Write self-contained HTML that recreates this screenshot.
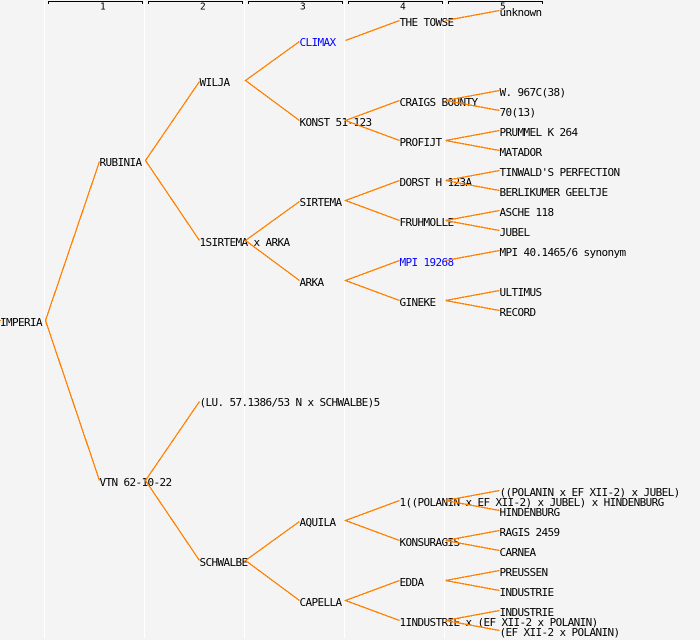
<!DOCTYPE html>
<html><head><meta charset="utf-8"><style>
html,body{margin:0;padding:0;background:#f4f4f4;width:700px;height:640px;overflow:hidden}
svg{display:block}
text{font-family:"DejaVu Sans Mono","Liberation Mono",monospace;font-size:11px;letter-spacing:-0.62px;fill:#000}
.b{fill:#0000ff}
.h{font-size:9.5px;letter-spacing:0}
</style></head><body>
<svg width="700" height="640" viewBox="0 0 700 640" xmlns="http://www.w3.org/2000/svg">
<rect width="700" height="640" fill="#f4f4f4"/>
<g fill="#fff"><rect x="44" y="0" width="1" height="638"/><rect x="144" y="0" width="1" height="638"/><rect x="244" y="0" width="1" height="638"/><rect x="344" y="0" width="1" height="638"/><rect x="444" y="0" width="1" height="638"/></g>
<g fill="none" stroke="#000" shape-rendering="crispEdges"><path d="M48.5 4V1.5H142.5V4M148.5 4V1.5H242.5V4M248.5 4V1.5H342.5V4M348.5 4V1.5H442.5V4M448.5 4V1.5H542.5V4"/></g>
<text class="h" x="100" y="9.5">1</text><text class="h" x="200" y="9.5">2</text><text class="h" x="300" y="9.5">3</text><text class="h" x="400" y="9.5">4</text><text class="h" x="500" y="9.5">5</text>
<text x="0" y="326">IMPERIA</text>
<text x="99.5" y="166">RUBINIA</text><text x="99.5" y="486">VTN 62-10-22</text>
<text x="199.5" y="86">WILJA</text><text x="199.5" y="246">1SIRTEMA x ARKA</text><text x="199.5" y="406">(LU. 57.1386/53 N x SCHWALBE)5</text><text x="199.5" y="566">SCHWALBE</text>
<text x="299.5" y="46" class="b">CLIMAX</text><text x="299.5" y="126">KONST 51-123</text><text x="299.5" y="206">SIRTEMA</text><text x="299.5" y="286">ARKA</text><text x="299.5" y="526">AQUILA</text><text x="299.5" y="606">CAPELLA</text>
<text x="399.5" y="26">THE TOWSE</text><text x="399.5" y="106">CRAIGS BOUNTY</text><text x="399.5" y="146">PROFIJT</text><text x="399.5" y="186">DORST H 123A</text><text x="399.5" y="226">FRUHMOLLE</text><text x="399.5" y="266" class="b">MPI 19268</text><text x="399.5" y="306">GINEKE</text><text x="399.5" y="506">1((POLANIN x EF XII-2) x JUBEL) x HINDENBURG</text><text x="399.5" y="546">KONSURAGIS</text><text x="399.5" y="586">EDDA</text><text x="399.5" y="626">1INDUSTRIE x (EF XII-2 x POLANIN)</text>
<text x="499.5" y="16">unknown</text><text x="499.5" y="96">W. 967C(38)</text><text x="499.5" y="116">70(13)</text><text x="499.5" y="136">PRUMMEL K 264</text><text x="499.5" y="156">MATADOR</text><text x="499.5" y="176">TINWALD'S PERFECTION</text><text x="499.5" y="196">BERLIKUMER GEELTJE</text><text x="499.5" y="216">ASCHE 118</text><text x="499.5" y="236">JUBEL</text><text x="499.5" y="256">MPI 40.1465/6 synonym</text><text x="499.5" y="296">ULTIMUS</text><text x="499.5" y="316">RECORD</text><text x="499.5" y="496">((POLANIN x EF XII-2) x JUBEL)</text><text x="499.5" y="516">HINDENBURG</text><text x="499.5" y="536">RAGIS 2459</text><text x="499.5" y="556">CARNEA</text><text x="499.5" y="576">PREUSSEN</text><text x="499.5" y="596">INDUSTRIE</text><text x="499.5" y="616">INDUSTRIE</text><text x="499.5" y="636">(EF XII-2 x POLANIN)</text>
<path fill="none" stroke="#ff8000" stroke-width="1.3" shape-rendering="crispEdges" d="M0 320.5H1
M99.5 161.5L45.5 320.5L99.5 480.5
M199.5 81.5L145.5 160.5L199.5 240.5
M199.5 401.5L145.5 480.5L199.5 560.5
M299.5 41.5L245.5 80.5L299.5 120.5
M299.5 201.5L245.5 240.5L299.5 280.5
M299.5 521.5L245.5 560.5L299.5 600.5
M399.5 20.5L345.5 40.5
M399.5 100.5L345.5 120.5L399.5 140.5
M399.5 180.5L345.5 200.5L399.5 220.5
M399.5 260.5L345.5 280.5L399.5 300.5
M399.5 500.5L345.5 520.5L399.5 540.5
M399.5 580.5L345.5 600.5L399.5 620.5
M499.5 10.5L445.5 20.5
M499.5 90.5L445.5 100.5L499.5 110.5
M499.5 130.5L445.5 140.5L499.5 150.5
M499.5 170.5L445.5 180.5L499.5 190.5
M499.5 210.5L445.5 220.5L499.5 230.5
M499.5 250.5L445.5 260.5
M499.5 290.5L445.5 300.5L499.5 310.5
M499.5 490.5L445.5 500.5L499.5 510.5
M499.5 530.5L445.5 540.5L499.5 550.5
M499.5 570.5L445.5 580.5L499.5 590.5
M499.5 610.5L445.5 620.5L499.5 630.5"/>
</svg>
</body></html>
